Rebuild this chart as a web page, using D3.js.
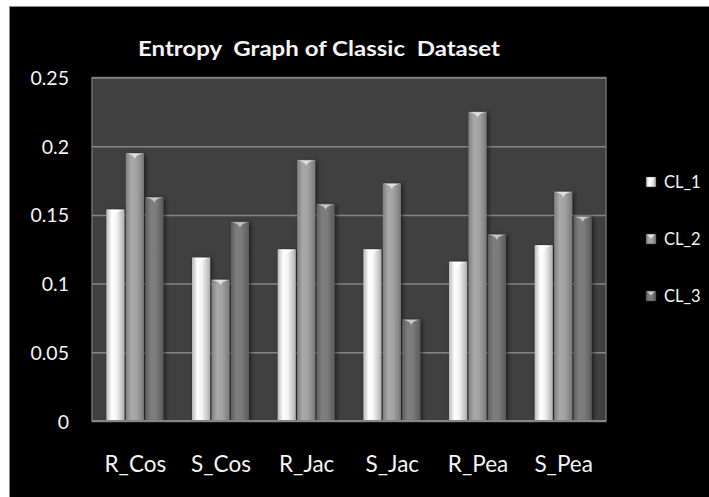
<!DOCTYPE html>
<html>
<head>
<meta charset="utf-8">
<script src="https://cdn.jsdelivr.net/npm/d3@7"></script>
<style>
  html, body { margin: 0; padding: 0; background: #ffffff; }
  svg { display: block; }
  text { font-family: Lato, "Open Sans", sans-serif; fill: #f4f4f4; }
</style>
</head>
<body>
<svg id="chart" width="709" height="497"></svg>
<script>
// Entropy per clustering method and cluster
const categories = ["R_Cos", "S_Cos", "R_Jac", "S_Jac", "R_Pea", "S_Pea"];
const seriesNames = ["CL_1", "CL_2", "CL_3"];
const cl1 = [0.154, 0.119, 0.125, 0.125, 0.116, 0.128];
const cl2 = [0.195, 0.103, 0.190, 0.173, 0.225, 0.167];
const cl3 = [0.163, 0.145, 0.158, 0.074, 0.136, 0.149];
const yTicks = [0, 0.05, 0.1, 0.15, 0.2, 0.25];
const yTickLabels = ["0", "0.05", "0.1", "0.15", "0.2", "0.25"];
const titleText = "Entropy  Graph of Classic  Dataset";

const seriesValues = [cl1, cl2, cl3];

const svg = d3.select("#chart");
const W = 709, H = 497;

// Plot area
const plot = { left: 92, right: 606, top: 77.5, bottom: 421 };

// Outer black chart frame
svg.append("rect")
  .attr("x", 9.5).attr("y", 6.5)
  .attr("width", W).attr("height", H)
  .attr("fill", "#000000")
  .attr("stroke", "#8a8a8a").attr("stroke-width", 1);

const defs = svg.append("defs");

// Cylinder-like horizontal shading for each series
const shades = [
  { id: "g1", stops: [["0%", "#b8b8b8"], ["30%", "#ffffff"], ["55%", "#f4f4f4"], ["100%", "#b0b0b0"]] },
  { id: "g2", stops: [["0%", "#7e7e7e"], ["30%", "#a8a8a8"], ["60%", "#a2a2a2"], ["100%", "#7a7a7a"]] },
  { id: "g3", stops: [["0%", "#5e5e5e"], ["30%", "#7e7e7e"], ["60%", "#7a7a7a"], ["100%", "#5a5a5a"]] }
];
shades.forEach(s => {
  const g = defs.append("linearGradient").attr("id", s.id)
    .attr("x1", "0%").attr("x2", "100%").attr("y1", "0%").attr("y2", "0%");
  s.stops.forEach(([o, c]) => g.append("stop").attr("offset", o).attr("stop-color", c));
});
const capColors = ["#ffffff", "#e8e8e8", "#cfcfcf"];

const shadow = defs.append("filter").attr("id", "shadow")
  .attr("x", "-30%").attr("y", "-10%").attr("width", "170%").attr("height", "130%");
shadow.append("feDropShadow").attr("dx", 2).attr("dy", 1).attr("stdDeviation", 2)
  .attr("flood-color", "#000000").attr("flood-opacity", 0.55);

// Scales
const x0 = d3.scaleBand().domain(categories)
  .range([plot.left, plot.right]).paddingInner(0.335).paddingOuter(0.1675);
const x1 = d3.scaleBand().domain(seriesNames)
  .range([0, x0.bandwidth()]).paddingInner(0.07);
const y = d3.scaleLinear().domain([0, 0.25]).range([plot.bottom, plot.top]);

// Plot background
svg.append("rect")
  .attr("x", plot.left).attr("y", plot.top)
  .attr("width", plot.right - plot.left).attr("height", plot.bottom - plot.top)
  .attr("fill", "#404040").attr("stroke", "#6c6c6c").attr("stroke-width", 1.5);

// Gridlines
const grid = svg.append("g").attr("transform", `translate(${plot.left},0)`)
  .call(d3.axisLeft(y).tickValues(yTicks).tickSize(-(plot.right - plot.left)).tickFormat(""));
grid.select(".domain").remove();
grid.selectAll(".tick line").attr("stroke", "#858585").attr("stroke-width", 1.5);

// Y tick labels
const yAxis = svg.append("g").attr("transform", `translate(69,0)`)
  .call(d3.axisLeft(y).tickValues(yTicks).tickSize(0).tickPadding(0)
    .tickFormat((d, i) => yTickLabels[i]));
yAxis.select(".domain").remove();
yAxis.selectAll("text")
  .attr("font-size", 19.5).attr("fill", "#f4f4f4")
  .attr("font-family", "Lato, sans-serif")
  .attr("dy", "0.36em");

// Bars
const groups = svg.append("g").selectAll("g")
  .data(categories).join("g")
  .attr("transform", d => `translate(${x0(d)},0)`);

const barData = (c, ci) => seriesNames.map((s, si) => ({ s, si, v: seriesValues[si][ci] }));

groups.each(function (c, ci) {
  const g = d3.select(this);
  const bars = barData(c, ci);
  g.selectAll("rect.bar").data(bars).join("rect")
    .attr("class", "bar")
    .attr("x", d => x1(d.s))
    .attr("y", d => y(d.v))
    .attr("width", x1.bandwidth())
    .attr("height", d => y(0) - y(d.v))
    .attr("fill", d => `url(#g${d.si + 1})`)
    .attr("filter", "url(#shadow)");
  // bevelled top highlight
  g.selectAll("path.cap").data(bars).join("path")
    .attr("class", "cap")
    .attr("d", d => {
      const bx = x1(d.s), bw = x1.bandwidth(), ty = y(d.v);
      return `M${bx + 1},${ty + 0.5} L${bx + bw - 1},${ty + 0.5} Q${bx + bw * 0.5},${ty + 2} ${bx + bw * 0.5},${ty + 6.5} Q${bx + bw * 0.5},${ty + 2} ${bx + 1},${ty + 0.5} Z`;
    })
    .attr("fill", d => capColors[d.si])
    .attr("opacity", 0.9);
});

// Plot bottom edge
svg.append("line")
  .attr("x1", plot.left).attr("x2", plot.right)
  .attr("y1", plot.bottom).attr("y2", plot.bottom)
  .attr("stroke", "#858585").attr("stroke-width", 2);

// X category labels
svg.append("g").selectAll("text").data(categories).join("text")
  .attr("x", d => x0(d) + x0.bandwidth() / 2 + 0.5)
  .attr("y", 472)
  .attr("text-anchor", "middle")
  .attr("font-size", 22.5)
  .text(d => d);

// Title
svg.append("text")
  .attr("x", 319).attr("y", 56)
  .attr("text-anchor", "middle")
  .attr("font-size", 21.5).attr("font-weight", "bold")
  .style("white-space", "pre")
  .attr("textLength", 362).attr("lengthAdjust", "spacingAndGlyphs")
  .text(titleText);

// Legend
const legendY = d3.scalePoint().domain(seriesNames).range([182, 296]);
const legend = svg.append("g").selectAll("g").data(seriesNames).join("g")
  .attr("transform", d => `translate(646,${legendY(d)})`);
legend.append("rect")
  .attr("x", 0).attr("y", -5).attr("width", 10).attr("height", 10)
  .attr("fill", (d, i) => `url(#g${i + 1})`)
  .attr("stroke", "#3a3a3a").attr("stroke-width", 0.5);
legend.append("path")
  .attr("d", "M1,-4.5 L9,-4.5 L5,-0.5 Z")
  .attr("fill", (d, i) => capColors[i]).attr("opacity", 0.9);
legend.append("text")
  .attr("x", 18).attr("y", 0).attr("dy", "0.36em")
  .attr("font-size", 16.5)
  .text(d => d);
</script>
</body>
</html>
